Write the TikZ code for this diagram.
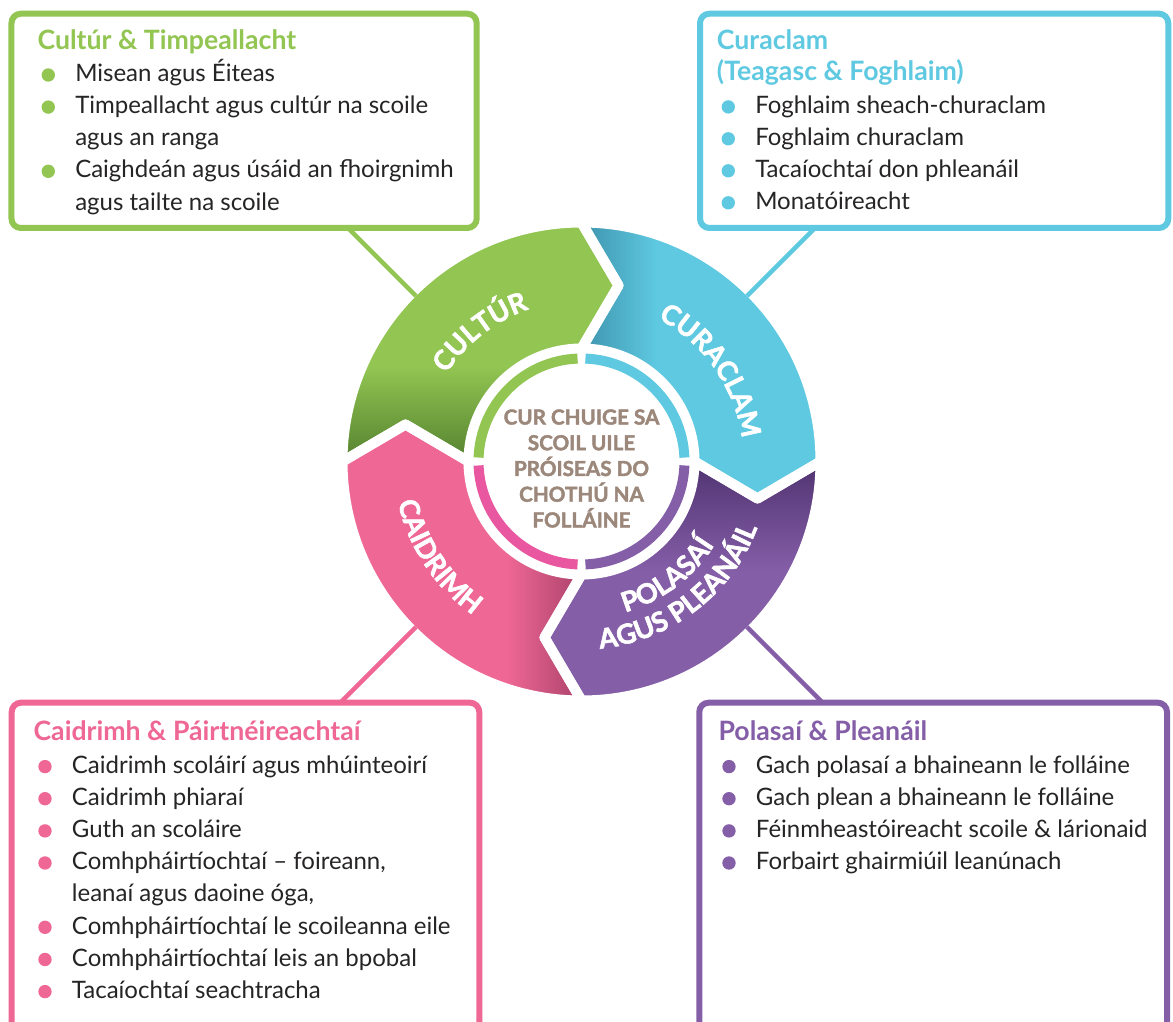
\documentclass[tikz,border=0pt]{standalone}
\usepackage{fontspec}
\setmainfont{Lato}
\newfontfamily\heavyfam{Lato}[BoldFeatures={FakeBold=2}]
\usetikzlibrary{calc,decorations.text}
\definecolor{cgreen}{HTML}{92C552}
\definecolor{cgreendk}{HTML}{4E7A2C}
\definecolor{ccyan}{HTML}{5EC9E1}
\definecolor{ccyandk}{HTML}{3A8CA6}
\definecolor{cpink}{HTML}{EF6795}
\definecolor{cpinkdk}{HTML}{A53F66}
\definecolor{cpinkring}{HTML}{E8579F}
\definecolor{cpurple}{HTML}{855EA8}
\definecolor{cpurpledk}{HTML}{4B2F6B}
\definecolor{ctaupe}{HTML}{9C877B}
\definecolor{ctext}{HTML}{262425}
\newcommand\segshape[2]{(#1:239) arc[start angle=#1, end angle=#2, radius=239] -- ($(#2:176)+(#2-90:37)$) -- (#2:113) arc[start angle=#2, end angle=#1, radius=113] -- ($(#1:176)+(#1-90:37)$) -- cycle}
\newcommand\lblfont{\heavyfam\fontsize{20.5}{20}\selectfont\bfseries}
\tikzset{
 segedge/.style={draw=white, line width=7.5pt, line join=round},
 ringarc/.style={draw=#1, line width=7.5pt},
 arclabel/.style={decorate, decoration={text along path, text={|\lblfont|#1}, text align=center, text color=white}},
 boxframe/.style={draw=#1, line width=4.5pt, rounded corners=7pt, fill=white, inner sep=0pt},
 conn/.style={draw=#1, line width=3.2pt},
 ttl/.style={text=#1, anchor=base west, inner sep=0pt, font={\fontsize{20}{24}\selectfont\bfseries}},
 itm/.style={text=ctext, anchor=base west, inner sep=0pt, font={\fontsize{18}{24}\selectfont}},
 bdot/.style={circle, fill=#1, minimum size=10pt, inner sep=0pt},
 ctr/.style={text=ctaupe, align=center, inner sep=0pt, font={\heavyfam\fontsize{15.5}{19.3}\selectfont\bfseries}}
}
\begin{document}
\begin{tikzpicture}[x=0.75pt,y=0.75pt]
\useasboundingbox (-581.5,-559.5) rectangle (591.5,461.5);
\clip (-581.5,-559.5) rectangle (591.5,461.5);
\fill[white] (-581.5,-559.5) rectangle (591.5,461.5);

% ---- boxes
\node[boxframe=cgreen, minimum width=348.9pt, minimum height=160.7pt] (gbox) at (-337.4,340.65) {};
\node[boxframe=ccyan, minimum width=351.2pt, minimum height=160.7pt] (cbox) at (352.65,340.65) {};
\node[boxframe=cpink, minimum width=350.7pt, minimum height=253pt] (pbox) at (-336,-409.85) {};
\node[boxframe=cpurple, minimum width=350.8pt, minimum height=253pt] (ubox) at (351.65,-409.85) {};

% ---- segments: fills
\begin{scope}
\clip \segshape{180}{90};
\fill[cgreen] (-250,-250) rectangle (250,250);
\shade[top color=cgreen,bottom color=cgreendk] (-250,-10) rectangle (10,95);
\end{scope}
\begin{scope}
\clip \segshape{90}{0};
\fill[ccyan] (-250,-250) rectangle (250,250);
\shade[left color=ccyandk,right color=ccyan] (-10,-10) rectangle (75,250);
\end{scope}
\begin{scope}
\clip \segshape{0}{-90};
\fill[cpurple] (-250,-250) rectangle (250,250);
\shade[top color=cpurpledk,bottom color=cpurple] (-10,10) rectangle (250,-110);
\end{scope}
\begin{scope}
\clip \segshape{270}{180};
\fill[cpink] (-250,-250) rectangle (250,250);
\shade[left color=cpink,right color=cpinkdk] (-75,-250) rectangle (8,10);
\end{scope}
% ---- segments: white edges
\draw[segedge] \segshape{180}{90};
\draw[segedge] \segshape{90}{0};
\draw[segedge] \segshape{0}{-90};
\draw[segedge] \segshape{270}{180};

% ---- inner ring
\draw[ringarc=cgreen] (92.2:103) arc[start angle=92.2, end angle=177.8, radius=103];
\draw[ringarc=ccyan] (2.2:103) arc[start angle=2.2, end angle=87.8, radius=103];
\draw[ringarc=cpurple] (-87.8:103) arc[start angle=-87.8, end angle=-2.2, radius=103];
\draw[ringarc=cpinkring] (182.2:103) arc[start angle=182.2, end angle=267.8, radius=103];

% ---- connectors
\coordinate (gs) at (135:331); \coordinate (ge) at (135:234);
\coordinate (cs) at (45:331);  \coordinate (ce) at (45:234);
\coordinate (ps) at (225:341); \coordinate (pe) at (225:234);
\coordinate (us) at (315:341); \coordinate (ue) at (315:234);
\draw[conn=cgreen] (gs) -- (ge);
\draw[conn=ccyan] (cs) -- (ce);
\draw[conn=cpink] (ps) -- (pe);
\draw[conn=cpurple] (us) -- (ue);

% ---- segment labels (curved)
\path[arclabel=CULTÚR] (188:161) arc[start angle=188, end angle=68, radius=161];
\path[arclabel=CURACLAM] (95:162) arc[start angle=95, end angle=-25, radius=162];
\path[arclabel=CAIDRIMH] (153.6:188) arc[start angle=153.6, end angle=273.6, radius=188];
\path[arclabel=POLASAÍ] (-113:157) arc[start angle=-113, end angle=7, radius=157];
\path[arclabel={AGUS PLEANÁIL}] (-112.5:188) arc[start angle=-112.5, end angle=7.5, radius=188];

% ---- centre
\node[ctr] (centre) at (0,-7) {CUR CHUIGE SA\\SCOIL UILE\\PRÓISEAS DO\\CHOTHÚ NA\\FOLLÁINE};

% ---- green box text
\node[ttl=cgreen] (gt) at (-544.2,411.5) {Cultúr \& Timpeallacht};
\node[bdot=cgreen] (gd1) at (-533.2,386.5) {};
\node[itm] (g1) at (-506.5,379.8) {Misean agus Éiteas};
\node[bdot=cgreen] (gd2) at (-533.2,354.4) {};
\node[itm] (g2) at (-506.5,347.7) {Timpeallacht agus cultúr na scoile};
\node[itm] (g2b) at (-506.5,315.6) {agus an ranga};
\node[bdot=cgreen] (gd3) at (-533.2,290.2) {};
\node[itm] (g3) at (-506.5,283.5) {Caighdeán agus úsáid an fhoirgnimh};
\node[itm] (g3b) at (-506.5,251.4) {agus tailte na scoile};

% ---- cyan box text
\node[ttl=ccyan] (ct) at (135.2,411.5) {Curaclam};
\node[ttl=ccyan] (ct2) at (135.2,380.5) {(Teagasc \& Foghlaim)};
\node[bdot=ccyan] (cd1) at (146.8,354.6) {};
\node[itm] (c1) at (173.5,347.9) {Foghlaim sheach-churaclam};
\node[bdot=ccyan] (cd2) at (146.8,322.7) {};
\node[itm] (c2) at (173.5,316) {Foghlaim churaclam};
\node[bdot=ccyan] (cd3) at (146.8,290.7) {};
\node[itm] (c3) at (173.5,284) {Tacaíochtaí don phleanáil};
\node[bdot=ccyan] (cd4) at (146.8,258.7) {};
\node[itm] (c4) at (173.5,252) {Monatóireacht};

% ---- pink box text
\node[ttl=cpink] (pt) at (-548.2,-278.5) {Caidrimh \& Páirtnéireachtaí};
\node[bdot=cpink] (pd1) at (-536.5,-305.1) {};
\node[itm] (p1) at (-509.8,-311.8) {Caidrimh scoláirí agus mhúinteoirí};
\node[bdot=cpink] (pd2) at (-536.5,-337.2) {};
\node[itm] (p2) at (-509.8,-343.9) {Caidrimh phiaraí};
\node[bdot=cpink] (pd3) at (-536.5,-369.4) {};
\node[itm] (p3) at (-509.8,-376.1) {Guth an scoláire};
\node[bdot=cpink] (pd4) at (-536.5,-401.5) {};
\node[itm] (p4) at (-509.8,-408.2) {Comhpháirtíochtaí – foireann,};
\node[itm] (p4b) at (-509.8,-440.4) {leanaí agus daoine óga,};
\node[bdot=cpink] (pd5) at (-536.5,-465.8) {};
\node[itm] (p5) at (-509.8,-472.5) {Comhpháirtíochtaí le scoileanna eile};
\node[bdot=cpink] (pd6) at (-536.5,-498) {};
\node[itm] (p6) at (-509.8,-504.7) {Comhpháirtíochtaí leis an bpobal};
\node[bdot=cpink] (pd7) at (-536.5,-530.1) {};
\node[itm] (p7) at (-509.8,-536.8) {Tacaíochtaí seachtracha};

% ---- purple box text
\node[ttl=cpurple] (ut) at (136.8,-278.5) {Polasaí \& Pleanáil};
\node[bdot=cpurple] (ud1) at (147.5,-305.1) {};
\node[itm] (u1) at (174.2,-311.8) {Gach polasaí a bhaineann le folláine};
\node[bdot=cpurple] (ud2) at (147.5,-337.2) {};
\node[itm] (u2) at (174.2,-343.9) {Gach plean a bhaineann le folláine};
\node[bdot=cpurple] (ud3) at (147.5,-369.4) {};
\node[itm] (u3) at (174.2,-376.1) {Féinmheastóireacht scoile \& lárionaid};
\node[bdot=cpurple] (ud4) at (147.5,-401.5) {};
\node[itm] (u4) at (174.2,-408.2) {Forbairt ghairmiúil leanúnach};
\end{tikzpicture}
\end{document}
